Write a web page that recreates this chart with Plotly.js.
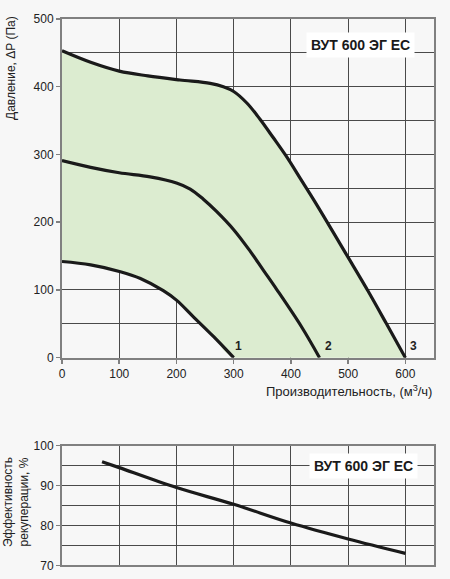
<!DOCTYPE html>
<html>
<head>
<meta charset="utf-8">
<script src="https://cdn.plot.ly/plotly-3.0.1.min.js"></script>
<style>html,body{margin:0;padding:0;background:#f7f7f7;}#chart{width:450px;height:579px;}</style>
</head>
<body>
<div id="chart"></div>
<script>
// Fan curves (airflow m3/h vs pressure Pa)
const curve1X = [0, 50, 102, 137, 177, 200, 230, 265, 300];
const curve1Y = [142, 137, 127, 117, 99, 85, 60, 31, 0];
const curve2X = [0, 50, 100, 154, 200, 224, 247, 270, 300, 329, 352, 375, 419, 450];
const curve2Y = [291, 281, 273, 267, 258, 249, 234, 216, 189, 157, 129, 101, 45, 0];
const curve3X = [0, 50, 100, 150, 206, 259, 282, 300, 323, 346, 369, 393, 416, 442, 500, 535, 567, 600];
const curve3Y = [453, 436, 423, 416, 410, 405, 400, 393, 376, 352, 325, 296, 265, 230, 148, 98, 50, 0];
const fillEndX = [600];
const fillEndY = [0];
// Recuperation efficiency
const effX = [70, 100, 200, 300, 400, 500, 600];
const effY = [96, 94.5, 89.5, 85.3, 80.6, 76.6, 73];
const curveLabels = ['1', '2', '3'];
const curveLabelX = [308, 465, 615];
const modelName = 'ВУТ 600 ЭГ ЕС';

const lineStyle = {color: '#1a1a1a', width: 3.2, shape: 'spline', smoothing: 1};

const traces = [
  {x: curve1X.concat(fillEndX), y: curve1Y.concat(fillEndY), mode: 'lines',
   line: {width: 0, color: 'rgba(0,0,0,0)', shape: 'spline', smoothing: 1}, hoverinfo: 'skip', showlegend: false, xaxis: 'x', yaxis: 'y'},
  {x: curve3X, y: curve3Y, mode: 'lines', fill: 'tonexty', fillcolor: '#dcecd0',
   line: {width: 0, color: 'rgba(0,0,0,0)', shape: 'spline', smoothing: 1}, hoverinfo: 'skip', showlegend: false, xaxis: 'x', yaxis: 'y'},
  {x: curve1X, y: curve1Y, mode: 'lines', line: lineStyle, showlegend: false, xaxis: 'x', yaxis: 'y'},
  {x: curve2X, y: curve2Y, mode: 'lines', line: lineStyle, showlegend: false, xaxis: 'x', yaxis: 'y'},
  {x: curve3X, y: curve3Y, mode: 'lines', line: lineStyle, showlegend: false, xaxis: 'x', yaxis: 'y'},
  {x: effX, y: effY, mode: 'lines', line: {color: '#1a1a1a', width: 3.2, shape: 'spline', smoothing: 1}, showlegend: false, xaxis: 'x2', yaxis: 'y2'}
];

const H = 579;
const PL = 62, PW = 372;
const px = v => (v - PL) / PW;
const font = {family: 'Liberation Sans, Arial, sans-serif', size: 12, color: '#222'};
const gridColor = '#4a4a4a';
const axisCommon = {
  showline: true, linecolor: '#808080', linewidth: 2, mirror: true,
  showgrid: true, gridcolor: gridColor, gridwidth: 1,
  zeroline: false, ticks: 'outside', ticklen: 4, tickcolor: '#808080', tickwidth: 1.5,
  tickfont: {family: font.family, size: 12, color: '#222'}
};

const annotations = curveLabels.map((t, i) => ({
  x: curveLabelX[i], y: 18, xref: 'x', yref: 'y', text: '<b>' + t + '</b>', showarrow: false,
  font: {family: font.family, size: 12, color: '#222'}
}));
annotations.push(
  {x: 522, y: 461, xref: 'x', yref: 'y', text: '<b>' + modelName + '</b>', showarrow: false,
   bgcolor: '#ffffff', borderpad: 4, font: {family: font.family, size: 14, color: '#1a1a1a'}},
  {x: 527, y: 95, xref: 'x2', yref: 'y2', text: '<b>' + modelName + '</b>', showarrow: false,
   bgcolor: '#ffffff', borderpad: 4, font: {family: font.family, size: 14, color: '#1a1a1a'}},
  {x: px(11), y: 1 - 68 / H, xref: 'paper', yref: 'paper', text: 'Давление, ΔP (Па)', textangle: -90,
   showarrow: false, xanchor: 'center', yanchor: 'middle', font: {family: font.family, size: 12, color: '#222'}},
  {x: px(434), y: 1 - 391 / H, xref: 'paper', yref: 'paper', text: 'Производительность, (м<sup>3</sup>/ч)',
   showarrow: false, xanchor: 'right', yanchor: 'middle', font: {family: font.family, size: 13, color: '#222'}},
  {x: px(16), y: 1 - 502 / H, xref: 'paper', yref: 'paper', text: 'Эффективность<br>рекуперации, %', textangle: -90,
   showarrow: false, xanchor: 'center', yanchor: 'middle', font: {family: font.family, size: 12, color: '#222'}}
);

const layout = {
  width: 450, height: 579,
  margin: {l: PL, r: 450 - PL - PW, t: 0, b: 0},
  paper_bgcolor: '#f7f7f7', plot_bgcolor: '#f7f7f7',
  font: font,
  showlegend: false,
  xaxis: Object.assign({}, axisCommon, {range: [0, 650], tickvals: [0, 100, 200, 300, 400, 500, 600], anchor: 'y'}),
  yaxis: Object.assign({}, axisCommon, {range: [0, 500], dtick: 100, domain: [1 - 357.7 / H, 1 - 19 / H], anchor: 'x',
    minor: {dtick: 50, showgrid: true, gridcolor: gridColor, gridwidth: 1}}),
  xaxis2: Object.assign({}, axisCommon, {range: [0, 650], dtick: 100, showticklabels: false, ticks: '', anchor: 'y2'}),
  yaxis2: Object.assign({}, axisCommon, {range: [70, 100], dtick: 10, domain: [1 - 565.3 / H, 1 - 445.7 / H], anchor: 'x2',
    minor: {dtick: 5, showgrid: true, gridcolor: gridColor, gridwidth: 1}}),
  annotations: annotations
};

Plotly.newPlot('chart', traces, layout, {staticPlot: true, displayModeBar: false});
</script>
</body>
</html>
